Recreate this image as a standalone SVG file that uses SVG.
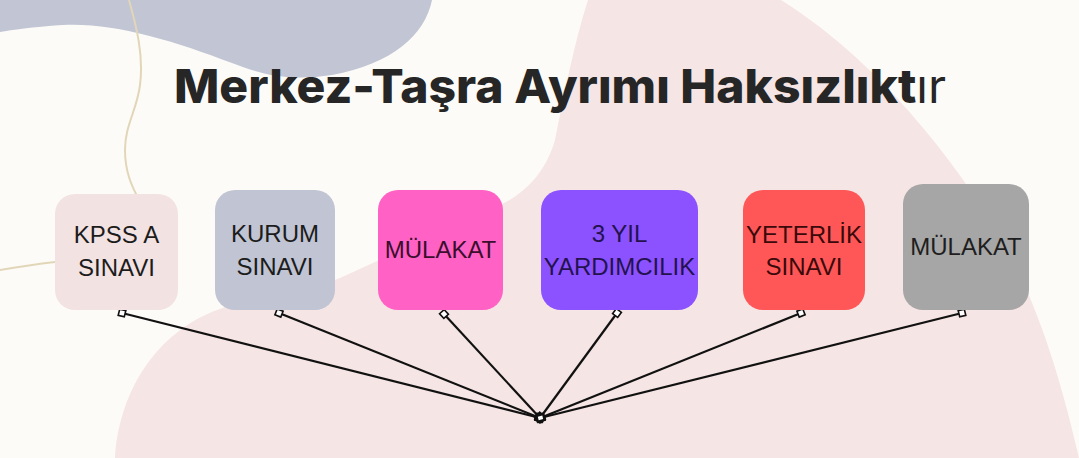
<svg xmlns="http://www.w3.org/2000/svg" width="1079" height="458" viewBox="0 0 1079 458">
  <style>
    .lbl { font-family: "Liberation Sans", Arial, sans-serif; font-size: 24px; text-anchor: middle; }
    .title { font-family: "Inter", "Liberation Sans", sans-serif; font-weight: 800; font-size: 47px; fill: #262626; }
    .conn { stroke: #111; stroke-width: 2.2; fill: none; marker-start: url(#sq); marker-end: url(#hub); }
  </style>
  <defs>
    <marker id="sq" viewBox="-5 -5 10 10" markerWidth="9" markerHeight="9" markerUnits="userSpaceOnUse" orient="auto" refX="0" refY="0">
      <rect x="-3.5" y="-3.5" width="7" height="7" fill="#fff" stroke="#111" stroke-width="1.8"/>
    </marker>
    <marker id="hub" viewBox="-6 -6 12 12" markerWidth="12" markerHeight="12" markerUnits="userSpaceOnUse" orient="auto" refX="0" refY="0">
      <rect x="-4" y="-3" width="7" height="6" fill="#fff" stroke="#111" stroke-width="2.4"/>
    </marker>
  </defs>

  <!-- background -->
  <rect x="0" y="0" width="1079" height="458" fill="#fdfbf7"/>
  <path d="M588,0 C575,40 565,90 555,140 C545,175 522,195 500,205 L340,278 C300,295 262,300 230,306 C168,322 120,380 115,458 L1079,458 C1062,385 1042,315 1005,245 C965,175 885,65 781,0 Z" fill="#f5e5e4"/>
  <path d="M0,0 H432 C425,35 392,64 332,75 C292,81 265,76 232,63 C172,40 112,22 62,25 C32,27 12,30 0,32 Z" fill="#c1c5d4"/>
  <path d="M129,0 C136,25 144,55 140,85 C137,110 125,125 125,150 C125,172 132,186 137,196 C145,225 110,258 55,262 C30,265 12,268 0,270" fill="none" stroke="#e2d6b8" stroke-width="2"/>

  <!-- title -->
  <text class="title" x="174" y="103" textLength="772" lengthAdjust="spacingAndGlyphs">Merkez-Taşra Ayrımı Haksızlıkt<tspan font-weight="400">ır</tspan></text>

  <!-- connectors -->
  <g id="connectors">
    <line class="conn" x1="122" y1="313" x2="540" y2="418"/>
    <line class="conn" x1="279" y1="313" x2="540" y2="418"/>
    <line class="conn" x1="444" y1="314" x2="540" y2="418"/>
    <line class="conn" x1="617" y1="313" x2="540" y2="418"/>
    <line class="conn" x1="801" y1="313" x2="540" y2="418"/>
    <line class="conn" x1="962" y1="313" x2="540" y2="418"/>
  </g>

  <!-- nodes -->
  <g id="node-kpss">
    <rect x="55" y="194" width="123" height="116" rx="20" fill="#f3e2e2"/>
    <text class="lbl" x="116.5" y="243" fill="#1c1c1c">KPSS A</text>
    <text class="lbl" x="116.5" y="276" fill="#1c1c1c">SINAVI</text>
  </g>
  <g id="node-kurum">
    <rect x="215" y="190" width="120" height="120" rx="20" fill="#c0c4d3"/>
    <text class="lbl" x="275" y="242" fill="#1c1c1c">KURUM</text>
    <text class="lbl" x="275" y="275" fill="#1c1c1c">SINAVI</text>
  </g>
  <g id="node-mulakat1">
    <rect x="378" y="190" width="125" height="120" rx="20" fill="#ff62c4"/>
    <text class="lbl" x="440.5" y="258" fill="#3a0e2c">MÜLAKAT</text>
  </g>
  <g id="node-yardimcilik">
    <rect x="541" y="190" width="157" height="120" rx="20" fill="#8c52ff"/>
    <text class="lbl" x="619.5" y="242" fill="#24124f">3 YIL</text>
    <text class="lbl" x="619.5" y="275" fill="#24124f">YARDIMCILIK</text>
  </g>
  <g id="node-yeterlik">
    <rect x="743" y="190" width="122" height="120" rx="20" fill="#ff5757"/>
    <text class="lbl" x="804" y="243" fill="#3a0a0a">YETERLİK</text>
    <text class="lbl" x="804" y="275" fill="#3a0a0a">SINAVI</text>
  </g>
  <g id="node-mulakat2">
    <rect x="903" y="184" width="126" height="126" rx="20" fill="#a6a6a6"/>
    <text class="lbl" x="966" y="255" fill="#1e1e1e">MÜLAKAT</text>
  </g>
</svg>
